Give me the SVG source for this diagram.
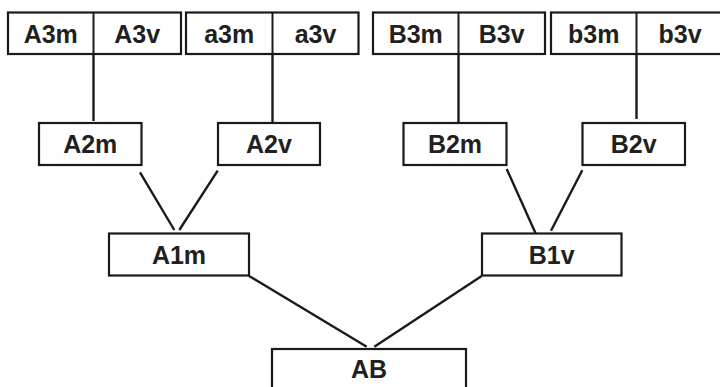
<svg xmlns="http://www.w3.org/2000/svg" width="720" height="387" viewBox="0 0 720 387">
<style>
.box{fill:#fff;stroke:#1a1a1a;stroke-width:2.2}
.div{stroke:#1a1a1a;stroke-width:2}
.lbl{font-family:"Liberation Sans",Arial,sans-serif;font-weight:bold;font-size:25px;fill:#231f20;text-anchor:middle}
.con line{stroke:#1a1a1a;stroke-width:2.4;fill:none}
</style>
<rect width="720" height="387" fill="#fff"/>
<g id="connectors" class="con">
<line x1="93.5" y1="54" x2="93.5" y2="121"/>
<line x1="272.5" y1="54" x2="272.5" y2="127"/>
<line x1="458.5" y1="54" x2="458.5" y2="125"/>
<line x1="636.5" y1="54" x2="636.5" y2="119"/>
<line x1="140" y1="172.3" x2="174.3" y2="230"/>
<line x1="217.7" y1="170.7" x2="179.3" y2="230"/>
<line x1="506.7" y1="169" x2="536.7" y2="235.7"/>
<line x1="582.3" y1="170.3" x2="551" y2="230.7"/>
<line x1="248.7" y1="275.7" x2="366.7" y2="346.7"/>
<line x1="481.7" y1="276" x2="374.3" y2="346.7"/>
</g>
<g id="A3">
<rect class="box" x="8" y="12.5" width="173" height="41.5"/>
<line class="div" x1="93.5" y1="12.5" x2="93.5" y2="54"/>
<text class="lbl" x="50.75" y="42.5">A3m</text>
<text class="lbl" x="137.25" y="42.5">A3v</text>
</g>
<g id="a3">
<rect class="box" x="186" y="12.5" width="172.5" height="41.5"/>
<line class="div" x1="272.5" y1="12.5" x2="272.5" y2="54"/>
<text class="lbl" x="229.25" y="42.5">a3m</text>
<text class="lbl" x="315.5" y="42.5">a3v</text>
</g>
<g id="B3">
<rect class="box" x="373" y="12.5" width="172" height="41.5"/>
<line class="div" x1="458.5" y1="12.5" x2="458.5" y2="54"/>
<text class="lbl" x="415.75" y="42.5">B3m</text>
<text class="lbl" x="501.75" y="42.5">B3v</text>
</g>
<g id="b3">
<rect class="box" x="551" y="12.5" width="173" height="41.5"/>
<line class="div" x1="636.5" y1="12.5" x2="636.5" y2="54"/>
<text class="lbl" x="593.75" y="42.5">b3m</text>
<text class="lbl" x="680" y="42.5">b3v</text>
</g>
<g id="A2m">
<rect class="box" x="39" y="123" width="102.5" height="42"/>
<text class="lbl" x="90.25" y="153">A2m</text>
</g>
<g id="A2v">
<rect class="box" x="218" y="123" width="102" height="42"/>
<text class="lbl" x="269" y="153">A2v</text>
</g>
<g id="B2m">
<rect class="box" x="403.5" y="123" width="103" height="42"/>
<text class="lbl" x="455" y="153">B2m</text>
</g>
<g id="B2v">
<rect class="box" x="582.5" y="123" width="102.5" height="42"/>
<text class="lbl" x="633.75" y="153">B2v</text>
</g>
<g id="A1m">
<rect class="box" x="109" y="233.5" width="140" height="42"/>
<text class="lbl" x="179" y="263.5">A1m</text>
</g>
<g id="B1v">
<rect class="box" x="482" y="233.5" width="139.5" height="42"/>
<text class="lbl" x="551.75" y="263.5">B1v</text>
</g>
<g id="AB">
<rect class="box" x="272" y="349" width="194" height="50"/>
<text class="lbl" x="369" y="378">AB</text>
</g>
</svg>
